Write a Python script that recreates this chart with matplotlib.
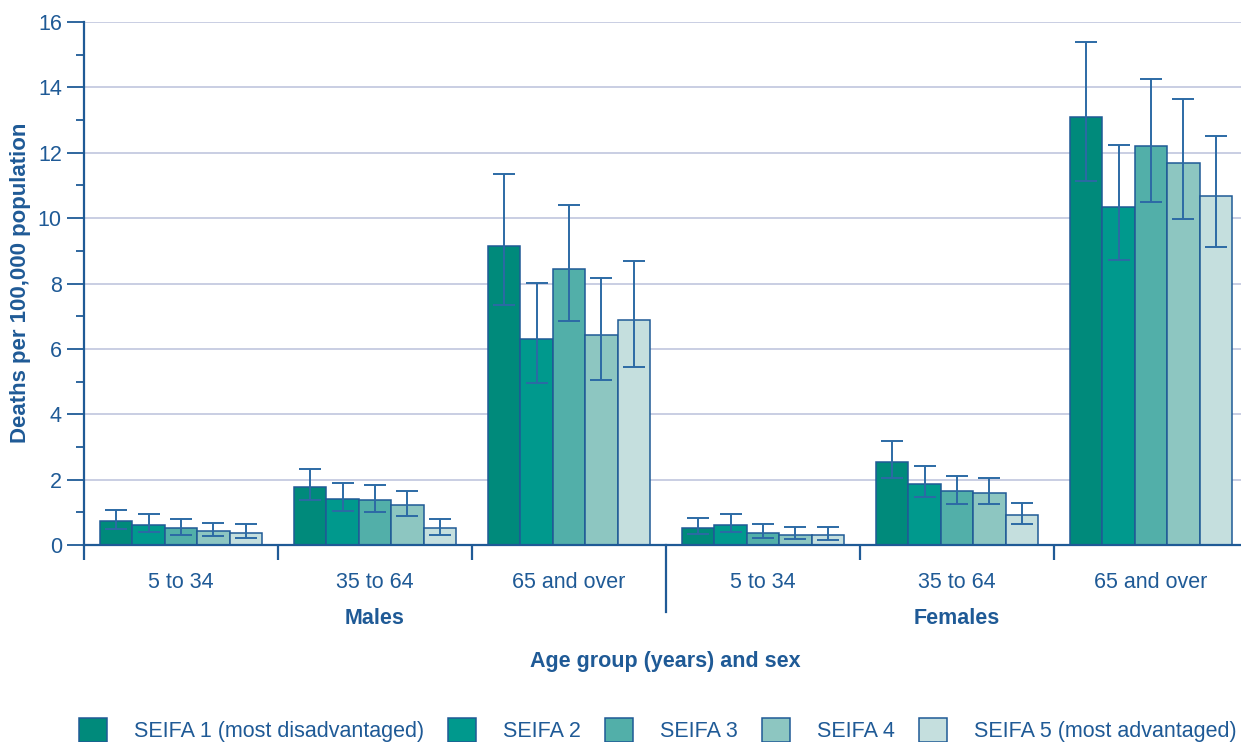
import matplotlib
matplotlib.use('Agg')
import matplotlib.pyplot as plt
import numpy as np

plt.rcParams['font.family'] = ['Liberation Sans', 'DejaVu Sans']

# data
age_groups = ['5 to 34', '35 to 64', '65 and over', '5 to 34', '35 to 64', '65 and over']
sexes = ['Males', 'Females']
seifa_names = ['SEIFA 1 (most disadvantaged)', 'SEIFA 2', 'SEIFA 3', 'SEIFA 4',
               'SEIFA 5 (most advantaged)']

seifa1 = [0.72, 1.77, 9.14, 0.52, 2.54, 13.08]
seifa2 = [0.62, 1.40, 6.30, 0.62, 1.88, 10.33]
seifa3 = [0.51, 1.37, 8.45, 0.36, 1.64, 12.22]
seifa4 = [0.43, 1.22, 6.42, 0.31, 1.60, 11.68]
seifa5 = [0.37, 0.51, 6.88, 0.31, 0.91, 10.68]

seifa1_lo = [0.48, 1.37, 7.35, 0.33, 2.04, 11.14]
seifa2_lo = [0.40, 1.05, 4.95, 0.41, 1.46, 8.71]
seifa3_lo = [0.32, 1.01, 6.86, 0.20, 1.24, 10.49]
seifa4_lo = [0.27, 0.90, 5.05, 0.18, 1.24, 9.98]
seifa5_lo = [0.22, 0.31, 5.45, 0.16, 0.65, 9.13]

seifa1_hi = [1.07, 2.32, 11.34, 0.84, 3.19, 15.40]
seifa2_hi = [0.94, 1.89, 8.01, 0.94, 2.41, 12.24]
seifa3_hi = [0.79, 1.83, 10.41, 0.64, 2.12, 14.26]
seifa4_hi = [0.66, 1.64, 8.17, 0.54, 2.06, 13.65]
seifa5_hi = [0.63, 0.79, 8.69, 0.55, 1.27, 12.51]

rates = [seifa1, seifa2, seifa3, seifa4, seifa5]
lows = [seifa1_lo, seifa2_lo, seifa3_lo, seifa4_lo, seifa5_lo]
highs = [seifa1_hi, seifa2_hi, seifa3_hi, seifa4_hi, seifa5_hi]

colors = ['#008A7B', '#00998D', '#52AFA9', '#8DC6C1', '#C5DFDE']
blue = '#1F5A96'
grid_col = '#C5CAE0'

W, H = 1241, 742
fig = plt.figure(figsize=(W / 100, H / 100), dpi=100)
ax = fig.add_axes([84 / W, 1 - 545 / H, (W - 84) / W, (545 - 22) / H])

x = np.arange(len(age_groups)) + 0.5
bw = 0.1675
handles = []
for i in range(5):
    r = np.array(rates[i])
    err = [r - np.array(lows[i]), np.array(highs[i]) - r]
    b = ax.bar(x + (i - 2) * bw, r, bw, color=colors[i], edgecolor=blue, linewidth=1.1,
               zorder=2, label=seifa_names[i])
    ax.errorbar(x + (i - 2) * bw, r, yerr=err, fmt='none', ecolor='#2C6AA5', elinewidth=1.4,
                capsize=8, capthick=1.4, zorder=3)
    handles.append(b)

ax.set_xlim(0, (W - 84) / 194.0)
ax.set_ylim(0, 16)
ax.set_yticks(np.arange(0, 17, 2))
ax.set_yticks(np.arange(1, 16, 2), minor=True)
ax.yaxis.grid(True, color=grid_col, linewidth=1.3, zorder=0)
ax.set_axisbelow(True)

for s in ['top', 'right']:
    ax.spines[s].set_visible(False)
for s in ['left', 'bottom']:
    ax.spines[s].set_color(blue)
    ax.spines[s].set_linewidth(1.6)
ax.spines['left'].set_zorder(4)
ax.spines['bottom'].set_zorder(4)

ax.tick_params(axis='y', which='major', length=12, width=1.3, color=blue, labelcolor=blue,
               labelsize=15.5, pad=4)
ax.tick_params(axis='y', which='minor', length=6, width=1.3, color=blue)

ax.set_xticks(x)
ax.set_xticklabels(age_groups)
ax.set_xticks([0, 1, 2, 4, 5], minor=True)
ax.tick_params(axis='x', which='major', length=0, labelcolor=blue, labelsize=15.5, pad=19.5)
ax.tick_params(axis='x', which='minor', length=11, width=1.6, color=blue)
# long divider between males and females
ax.plot([3, 3], [0, -0.128], transform=ax.get_xaxis_transform(), color=blue, lw=1.6,
        clip_on=False)

for k, sx in enumerate(sexes):
    ax.text(1.5 + 3 * k, -0.14, sx, transform=ax.get_xaxis_transform(), ha='center',
            va='center', fontsize=15.5, fontweight='bold', color=blue)

fig.text(665 / W, 1 - 661 / H, 'Age group (years) and sex', ha='center', va='center',
         fontsize=15.5, fontweight='bold', color=blue)
fig.text(21 / W, 1 - 283 / H, 'Deaths per 100,000 population', rotation=90, ha='center',
         va='center', fontsize=16, fontweight='bold', color=blue)

leg = fig.legend(handles=handles, loc='lower left', bbox_to_anchor=(79 / W, 0.0), ncol=5,
                 frameon=False, fontsize=15.5, handlelength=1.3, handleheight=1.3,
                 handletextpad=1.25, columnspacing=1.12, borderpad=0.0, borderaxespad=0.0)
for t in leg.get_texts():
    t.set_color(blue)

fig.savefig('out.png', dpi=100)
